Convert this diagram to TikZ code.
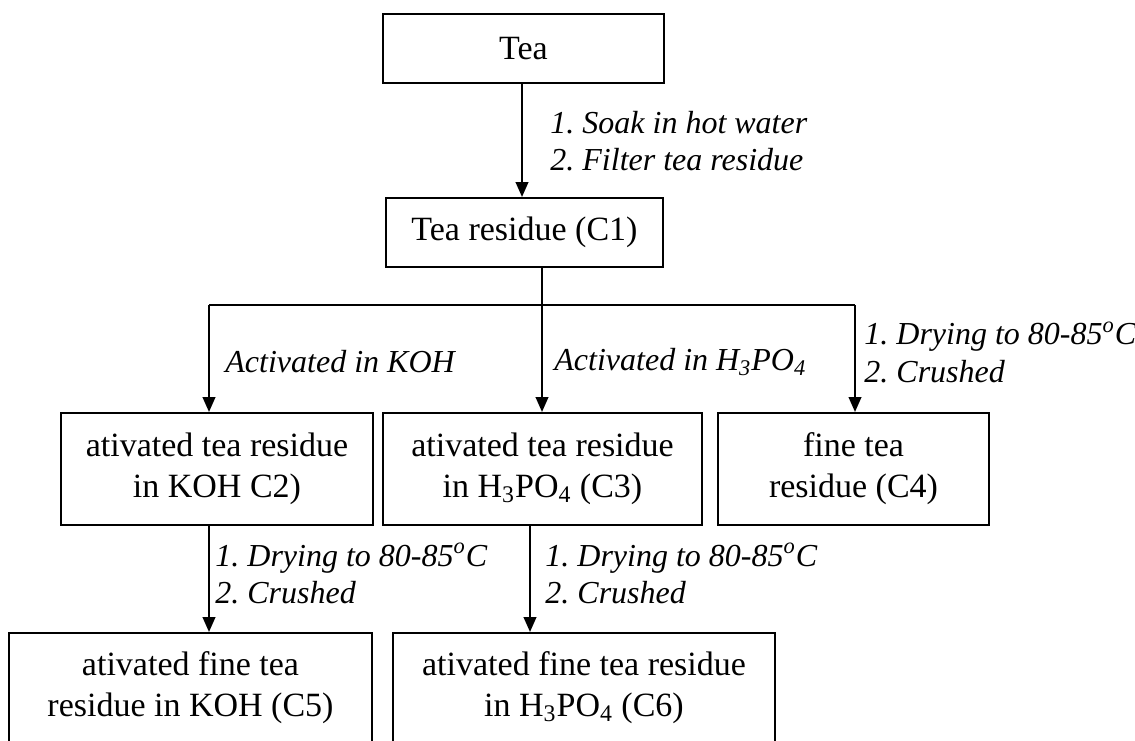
\documentclass[tikz,border=0pt]{standalone}
\usepackage{fontspec}
\setmainfont{Liberation Serif}
\usetikzlibrary{arrows.meta}
\tikzset{
  box/.style={draw, line width=1pt, align=center, inner sep=0pt,
    font=\fontsize{17}{20.5}\selectfont\frenchspacing},
  lab/.style={anchor=west, align=left, inner sep=0pt,
    font=\fontsize{16}{18.5}\selectfont\itshape\frenchspacing},
  arr/.style={line width=1.1pt, -{Triangle[length=7.5pt,width=6.3pt]}},
  ln/.style={line width=1.1pt}
}
\begin{document}
\begin{tikzpicture}[x=0.5pt,y=-0.5pt]
\useasboundingbox (0,0) rectangle (1135,740);
% nodes
\node[box, minimum width=140.5pt, minimum height=34.5pt] (tea) at (523.5,48.5) {Tea};
\node[box, minimum width=138.5pt, minimum height=34.5pt] (c1) at (524.5,232.5) {Tea residue (C1)};
\node[box, minimum width=156pt, minimum height=56pt] (c2) at (217,469) {ativated tea residue\\in KOH C2)};
\node[box, minimum width=159.5pt, minimum height=56pt] (c3) at (542.5,469) {ativated tea residue\\in H\textsubscript{3}PO\textsubscript{4} (C3)};
\node[box, minimum width=135.5pt, minimum height=56pt] (c4) at (853.5,469) {fine tea\\residue (C4)};
\node[box, minimum width=181.5pt, minimum height=54.5pt] (c5) at (190.5,687.5) {ativated fine tea\\residue in KOH (C5)};
\node[box, minimum width=191pt, minimum height=54.5pt] (c6) at (584,687.5) {ativated fine tea residue\\in H\textsubscript{3}PO\textsubscript{4} (C6)};
% coordinates
\coordinate (a0) at (522,0);
\coordinate (a1) at (542,0);
\coordinate (bl) at (209,305);
\coordinate (br) at (855,305);
\coordinate (a2) at (530,0);
% connectors
\draw[arr] (a0 |- tea.south) -- (a0 |- c1.north);
\draw[arr] (a1 |- c1.south) -- (a1 |- c3.north);
\draw[ln] (bl) -- (br);
\draw[arr] (bl) -- (bl |- c2.north);
\draw[arr] (br) -- (br |- c4.north);
\draw[arr] (bl |- c2.south) -- (bl |- c5.north);
\draw[arr] (a2 |- c3.south) -- (a2 |- c6.north);
% labels
\node[lab] (l1) at (550,141.5) {1. Soak in hot water\\2. Filter tea residue};
\node[lab] (l2) at (225,362) {Activated in KOH};
\node[lab] (l3) at (554,362) {Activated in H\textsubscript{3}PO\textsubscript{4}};
\node[lab, font=\fontsize{16}{19}\selectfont\itshape\frenchspacing] (l4) at (864,352.5) {1. Drying to 80-85\textsuperscript{o}C\\2. Crushed};
\node[lab] (l5) at (215,573.5) {1. Drying to 80-85\textsuperscript{o}C\\2. Crushed};
\node[lab] (l6) at (545,573.5) {1. Drying to 80-85\textsuperscript{o}C\\2. Crushed};
\end{tikzpicture}
\end{document}
